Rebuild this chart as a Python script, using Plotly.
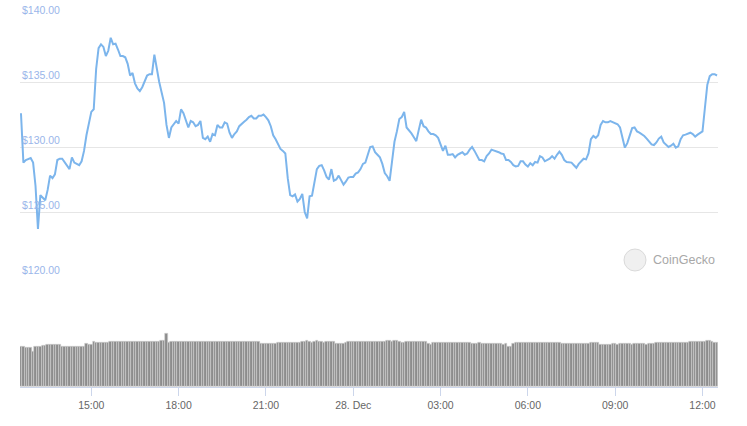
import pandas as pd
import plotly.graph_objects as go

# ---- data (5-minute samples, 27 Dec 12:35 -> 28 Dec 12:30) ----
start_time = "2020-12-27 12:35"
n_points = 288

price = [
    132.6, 128.8, 129.0, 129.1, 129.15, 128.8, 127.0, 123.7, 126.3, 126.1,
    125.9, 126.7, 127.8, 127.6, 127.9, 129.0, 129.1, 129.1, 128.8, 128.5,
    128.3, 129.2, 128.8, 128.7, 128.6, 128.9, 129.7, 130.9, 131.7, 132.7,
    132.9, 136.0, 137.6, 137.9, 137.7, 137.0, 137.4, 138.4, 137.9, 137.95,
    137.5, 137.0, 137.0, 136.9, 136.4, 135.5, 135.7, 134.9, 134.5, 134.3,
    134.6, 135.1, 135.5, 135.6, 135.6, 137.1, 135.9, 135.0, 134.2, 133.4,
    131.7, 130.7, 131.5, 131.8, 132.0, 131.8, 132.9, 132.6, 132.0, 131.5,
    132.0, 131.9, 131.6, 131.7, 132.0, 130.7, 130.6, 130.8, 130.4, 131.0,
    130.9, 131.7, 131.5, 131.5, 131.9, 131.8, 131.1, 130.7, 131.0, 131.2,
    131.6, 131.8, 131.95, 132.1, 132.3, 132.4, 132.2, 132.2, 132.4, 132.4,
    132.5, 132.3, 132.05, 131.6, 130.9, 130.6, 130.2, 129.85, 129.7, 129.5,
    127.6, 126.3, 126.2, 126.35, 125.8, 126.0, 126.4, 125.0, 124.5, 126.2,
    126.25, 127.3, 128.3, 128.55, 128.6, 128.2, 127.7, 127.5, 128.3, 127.4,
    127.5, 127.8, 127.45, 127.1, 127.35, 127.65, 127.7, 127.7, 127.95, 128.05,
    128.3, 128.7, 128.8, 129.5, 130.0, 130.05, 129.6, 129.4, 129.2, 128.7,
    128.0, 127.75, 127.4, 128.9, 130.4, 131.2, 132.15, 132.3, 132.7, 131.5,
    131.3, 131.05, 130.75, 130.45, 131.3, 132.1, 131.6, 131.5, 131.2, 131.0,
    131.0, 130.9, 130.7, 130.2, 129.7, 130.1, 129.4, 129.4, 129.45, 129.2,
    129.4, 129.5, 129.6, 129.4, 129.5, 129.8, 130.0, 129.7, 129.3, 129.0,
    129.0, 128.9, 129.3, 129.5, 129.8, 129.75, 129.65, 129.6, 129.5, 129.45,
    129.0, 129.0, 128.85, 128.6, 128.5, 128.55, 128.9, 128.9, 128.65, 128.5,
    128.75, 128.6, 128.85, 128.8, 129.3, 129.2, 128.9, 129.0, 129.1, 129.3,
    129.1, 129.4, 129.65, 129.4, 129.0, 128.85, 128.8, 128.8, 128.6, 128.4,
    128.7, 128.9, 129.1, 129.05, 129.5, 130.6, 130.85, 130.7, 130.9, 131.7,
    132.0, 131.9, 131.9, 132.0, 131.9, 131.85, 131.75, 131.5, 130.6, 129.95,
    130.3, 130.85, 131.45, 131.5, 131.2, 131.1, 131.0, 130.85, 130.65, 130.4,
    130.2, 130.15, 130.35, 130.65, 130.8, 130.35, 130.15, 130.0, 130.1, 130.25,
    129.95, 130.05, 130.6, 130.9, 130.95, 131.0, 131.1, 131.0, 130.8, 130.95,
    131.05, 131.2, 133.0, 134.8, 135.45, 135.6, 135.6, 135.5,
]

volume = [
    40.5, 40.3, 39.6, 39.2, 39.0, 35.0, 40.0, 40.6, 40.4, 41.5,
    41.3, 42.3, 42.5, 42.3, 42.6, 42.4, 42.0, 40.8, 40.6, 40.6,
    40.7, 40.6, 40.6, 40.5, 40.6, 40.6, 40.8, 43.3, 42.0, 42.5,
    45.0, 44.6, 44.6, 44.8, 44.8, 44.7, 44.8, 45.6, 45.5, 45.6,
    45.7, 45.6, 45.6, 45.5, 45.6, 45.7, 45.6, 45.6, 45.5, 45.6,
    45.6, 45.7, 45.6, 45.5, 45.6, 45.6, 45.7, 45.6, 46.5, 46.8,
    53.3, 44.7, 45.5, 45.6, 45.5, 45.5, 45.6, 45.5, 45.5, 45.6,
    45.5, 45.5, 45.6, 45.5, 45.5, 45.6, 45.5, 45.5, 45.6, 45.5,
    45.5, 45.6, 45.5, 45.5, 45.6, 45.5, 45.5, 45.6, 45.5, 45.5,
    45.6, 45.5, 45.5, 45.6, 45.5, 45.5, 45.6, 45.5, 45.4, 43.3,
    43.3, 43.2, 43.3, 43.3, 43.2, 43.3, 44.3, 44.3, 44.2, 44.3,
    44.3, 44.2, 44.3, 44.3, 44.3, 44.5, 45.0, 45.5, 46.3, 45.3,
    44.5, 45.7, 46.3, 45.5, 45.8, 44.0, 45.8, 45.8, 45.8, 45.5,
    43.0, 43.5, 43.6, 43.6, 44.0, 45.5, 45.6, 45.5, 45.5, 45.6,
    45.5, 45.5, 45.4, 45.2, 45.3, 45.2, 45.2, 45.3, 45.2, 45.2,
    45.3, 46.0, 46.2, 45.6, 46.4, 46.0, 45.4, 44.5, 44.3, 45.7,
    45.6, 45.8, 45.6, 45.7, 45.6, 45.7, 45.5, 45.8, 43.3, 42.7,
    44.3, 44.3, 44.2, 44.3, 44.4, 44.3, 44.3, 44.2, 44.3, 44.3,
    44.4, 44.3, 44.3, 44.2, 44.3, 44.3, 43.8, 43.8, 43.5, 44.0,
    43.5, 43.3, 43.0, 43.2, 43.0, 43.0, 43.0, 43.0, 43.2, 42.8,
    43.0, 40.7, 40.5, 43.0, 44.3, 44.3, 44.2, 44.3, 44.4, 44.3,
    44.3, 44.2, 44.3, 44.3, 44.4, 44.3, 44.3, 44.2, 44.3, 44.3,
    44.4, 44.3, 44.3, 43.6, 43.6, 43.5, 43.6, 43.6, 43.7, 43.6,
    43.6, 43.5, 43.6, 43.6, 43.6, 44.3, 44.3, 44.2, 44.3, 42.7,
    42.7, 42.6, 42.7, 42.7, 43.0, 43.0, 42.9, 43.0, 43.0, 43.1,
    43.0, 43.0, 42.9, 43.0, 43.0, 43.1, 43.0, 43.0, 42.9, 43.0,
    43.0, 43.0, 44.3, 44.3, 44.2, 44.3, 44.4, 44.3, 44.3, 44.2,
    44.3, 44.3, 44.4, 44.3, 44.3, 44.2, 45.3, 45.3, 45.2, 45.3,
    45.4, 45.3, 45.5, 46.7, 46.3, 45.0, 44.5, 44.3,
]

price_ticks = [120, 125, 130, 135, 140]
price_tick_labels = ["$120.00", "$125.00", "$130.00", "$135.00", "$140.00"]

time_ticks = ["2020-12-27 15:00", "2020-12-27 18:00", "2020-12-27 21:00",
              "2020-12-28 00:00", "2020-12-28 03:00", "2020-12-28 06:00",
              "2020-12-28 09:00", "2020-12-28 12:00"]
time_tick_labels = ["15:00", "18:00", "21:00", "28. Dec", "03:00", "06:00",
                    "09:00", "12:00"]

times = pd.date_range(start_time, periods=n_points, freq="5min")

FONT = "Liberation Sans, Arial, sans-serif"

fig = go.Figure()
fig.add_trace(go.Bar(
    x=times, y=volume, yaxis="y2", xaxis="x",
    marker=dict(color="#8c8c8c", line=dict(width=0.6, color="#d2d2d2")),
    hoverinfo="skip", showlegend=False,
))
fig.add_trace(go.Scatter(
    x=times, y=price, mode="lines", yaxis="y", xaxis="x",
    line=dict(color="#7cb5ec", width=2),
    showlegend=False,
))

plot_h = 426 - 39
pad = 0.02  # tiny range padding so the top/bottom gridlines are drawn
fig.update_layout(
    width=747, height=426,
    margin=dict(l=20, r=29, t=0, b=39, autoexpand=False),
    paper_bgcolor="white", plot_bgcolor="white",
    bargap=0.0,
    font=dict(family=FONT, size=10, color="#666666"),
    xaxis=dict(
        type="date",
        range=["2020-12-27 12:33", "2020-12-28 12:32"],
        anchor="y2",
        automargin=False,
        tickvals=time_ticks, ticktext=time_tick_labels,
        ticks="outside", ticklen=8, tickcolor="#ccd6eb", tickwidth=1,
        showline=True, linecolor="#ccd6eb", linewidth=1,
        showgrid=False, zeroline=False,
        tickfont=dict(family=FONT, size=10.5, color="#666666"),
    ),
    yaxis=dict(
        domain=[(plot_h - 277 - 13 * pad) / plot_h, (plot_h - 17 + 13 * pad) / plot_h],
        range=[120 - pad, 140 + pad],
        automargin=False,
        tickvals=price_ticks, showticklabels=False,
        showgrid=True, gridcolor="#e6e6e6", gridwidth=1,
        zeroline=False, showline=False, ticks="",
    ),
    yaxis2=dict(
        domain=[0, 0.2],
        range=[0, 77.4],
        automargin=False,
        showticklabels=False, showgrid=False, zeroline=False,
        showline=False, ticks="",
    ),
)

# price labels sitting on top of their gridlines, left-aligned
for v, lab in zip(price_ticks, price_tick_labels):
    fig.add_annotation(
        x=0, xref="paper", y=v, yref="y",
        xanchor="left", yanchor="bottom", yshift=-1,
        text=lab, showarrow=False,
        font=dict(family=FONT, size=10.5, color="#9ab6ea"),
    )

# CoinGecko watermark
cx, cy, r = 635, 260, 11
fig.add_shape(
    type="circle", xref="paper", yref="paper",
    x0=(cx - r - 20) / 698, x1=(cx + r - 20) / 698,
    y0=(plot_h - cy - r) / plot_h, y1=(plot_h - cy + r) / plot_h,
    fillcolor="#f0f0f0", line=dict(color="#dadada", width=1), layer="below",
)
fig.add_annotation(
    x=(651 - 20) / 698, y=(plot_h - 260) / plot_h,
    xref="paper", yref="paper", xanchor="left", yanchor="middle",
    text="CoinGecko", showarrow=False,
    font=dict(family=FONT, size=12.5, color="#a8a8a8"),
)

fig.write_html(
    "out.html",
    config={"displayModeBar": False},
    post_script="document.body.style.margin='0';document.body.style.overflow='hidden';",
)
